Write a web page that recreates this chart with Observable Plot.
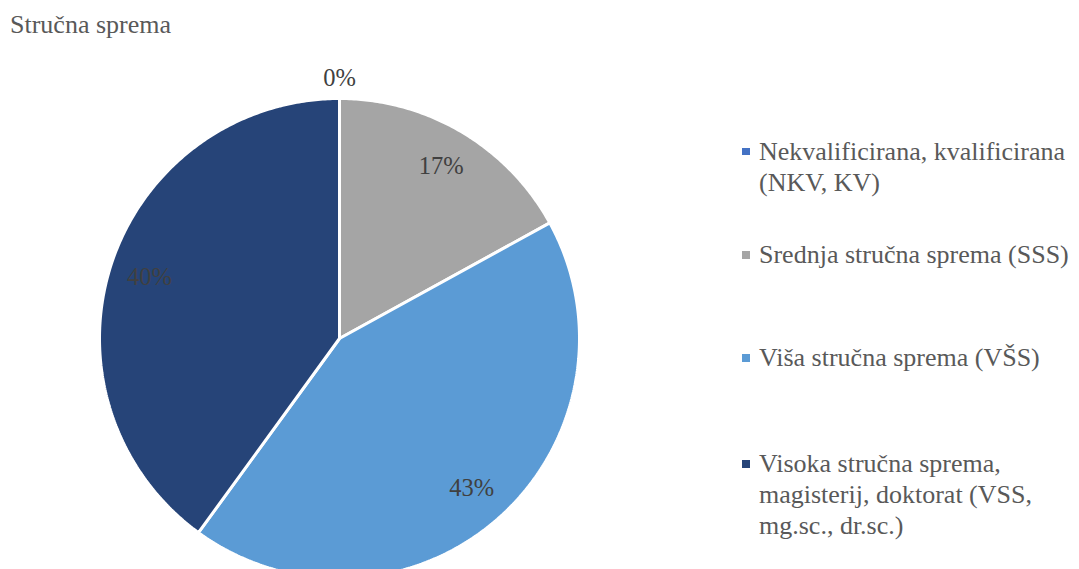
<!DOCTYPE html>
<html><head><meta charset="utf-8">
<script src="https://cdn.jsdelivr.net/npm/d3@7"></script>
<script src="https://cdn.jsdelivr.net/npm/@observablehq/plot@0.6"></script>
<style>
body{margin:0;background:#fff;}
#wrap{position:relative;width:1079px;height:569px;overflow:hidden;font-family:"Liberation Serif","Times New Roman",serif;color:#595959;}
#title{position:absolute;left:10px;top:12px;font-size:26px;line-height:26px;white-space:nowrap;}
.item{position:absolute;left:759px;width:320px;font-size:26px;line-height:31px;}
.sw{position:absolute;left:-17px;top:12px;width:7.5px;height:7.5px;}
#chart{position:absolute;left:0;top:0;}
</style></head><body>
<div id="wrap"><div id="chart"></div><div id="title"></div><div id="legend"></div></div>
<script>
const title = "Stručna sprema";
const categories = [
  "Nekvalificirana, kvalificirana (NKV, KV)",
  "Srednja stručna sprema (SSS)",
  "Viša stručna sprema (VŠS)",
  "Visoka stručna sprema, magisterij, doktorat (VSS, mg.sc., dr.sc.)"
];
const values = [0, 17, 43, 40];
const labels = ["0%", "17%", "43%", "40%"];
const colors = ["#4472C4", "#A5A5A5", "#5B9BD5", "#264478"];

// layout
const legendTops = [135.7, 239, 342.4, 448.4];

document.getElementById("title").textContent = title;

const arcs = d3.pie().sort(null).value(d => d)(values);
const pts = [];
const labelData = [];
arcs.forEach((a, i) => {
  const cat = categories[i];
  pts.push({cat, x: 0, y: 0});
  const span = a.endAngle - a.startAngle;
  const n = Math.max(2, Math.ceil(span / 0.01));
  for (let k = 0; k <= n; k++) {
    const t = a.startAngle + span * k / n;
    pts.push({cat, x: Math.sin(t), y: Math.cos(t)});
  }
  const mid = (a.startAngle + a.endAngle) / 2;
  const r = values[i] > 0 ? 0.833 : 1.083;
  labelData.push({label: labels[i], x: r * Math.sin(mid), y: r * Math.cos(mid)});
});

const chart = Plot.plot({
  width: 1079,
  height: 569,
  margin: 0,
  style: {fontFamily: "'Liberation Serif','Times New Roman',serif", background: "white"},
  x: {domain: [-1, 1], range: [99, 579], axis: null},
  y: {domain: [-1, 1], range: [578, 98], axis: null},
  color: {domain: categories, range: colors},
  marks: [
    Plot.line(pts, {x: "x", y: "y", z: "cat", fill: "cat", stroke: "white", strokeWidth: 3, strokeLinejoin: "miter", curve: "linear-closed"}),
    Plot.text(labelData, {x: "x", y: "y", text: "label", fontSize: 24.5, fill: "#404040"})
  ]
});
document.getElementById("chart").appendChild(chart);

const legend = document.getElementById("legend");
categories.forEach((c, i) => {
  const item = document.createElement("div");
  item.className = "item";
  item.style.top = legendTops[i] + "px";
  const sw = document.createElement("div");
  sw.className = "sw";
  sw.style.background = colors[i];
  item.appendChild(sw);
  item.appendChild(document.createTextNode(c));
  legend.appendChild(item);
});
</script>
</body></html>
